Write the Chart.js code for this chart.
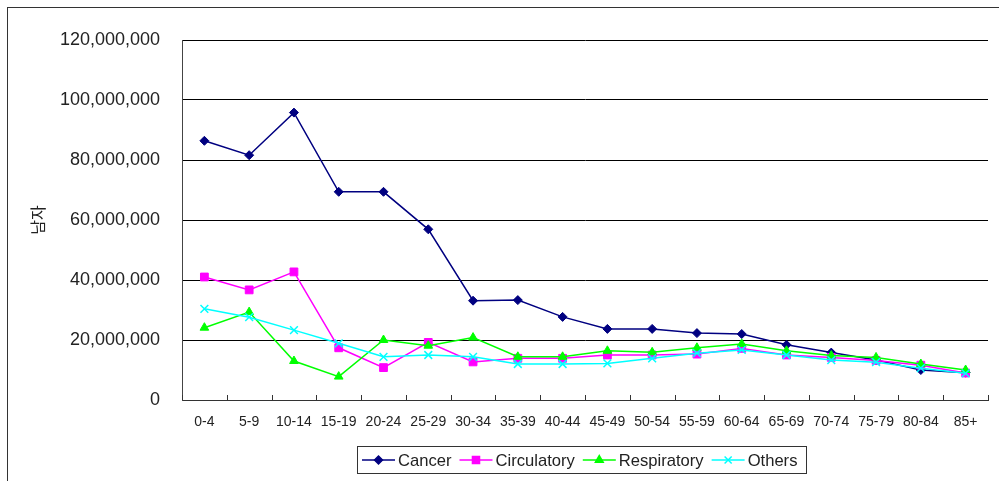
<!DOCTYPE html>
<html>
<head>
<meta charset="utf-8">
<script src="https://cdn.jsdelivr.net/npm/chart.js@4/dist/chart.umd.min.js"></script>
<style>
    html, body { margin: 0; padding: 0; background: #fff; overflow: hidden; }
    #wrap { position: relative; width: 999px; height: 481px; }
    #frame {
        position: absolute; left: 7px; top: 7px; width: 1010px; height: 500px;
        border: 1px solid #333; pointer-events: none;
    }
</style>
</head>
<body>
<div id="wrap">
    <canvas id="chart" width="999" height="481"></canvas>
    <div id="frame"></div>
</div>
<script>
const ageGroups = ['0-4', '5-9', '10-14', '15-19', '20-24', '25-29', '30-34', '35-39', '40-44',
    '45-49', '50-54', '55-59', '60-64', '65-69', '70-74', '75-79', '80-84', '85+'];

const cancer = [86400000, 81600000, 95800000, 69400000, 69400000, 56900000, 33100000, 33300000, 27700000,
    23700000, 23700000, 22300000, 22000000, 18400000, 15800000, 13300000, 10000000, 9100000];
const circulatory = [41000000, 36700000, 42700000, 17400000, 10800000, 19200000, 12700000, 13900000, 13900000,
    15000000, 15000000, 15300000, 17200000, 15000000, 14200000, 13200000, 11600000, 9000000];
const respiratory = [24100000, 29300000, 13000000, 7800000, 20000000, 18100000, 20800000, 14400000, 14400000,
    16400000, 15900000, 17400000, 18700000, 16400000, 14800000, 14200000, 12000000, 10000000];
const others = [30400000, 27600000, 23300000, 18900000, 14400000, 15000000, 14400000, 12000000, 12000000,
    12200000, 13900000, 15600000, 16700000, 15000000, 13300000, 12600000, 10600000, 8900000];

const yTicks = [0, 20000000, 40000000, 60000000, 80000000, 100000000, 120000000];
const yTitle = '남자';

function series(label, data, color, style, radius, order) {
    return {
        label: label,
        data: data,
        borderColor: color,
        backgroundColor: color,
        borderWidth: 1.5,
        pointStyle: style,
        pointRadius: radius,
        pointBorderWidth: style === 'crossRot' ? 1.5 : 1,
        pointBorderColor: color,
        pointBackgroundColor: color,
        tension: 0,
        order: order
    };
}

// small tick marks pointing up from the x axis, between categories
const innerTicks = {
    id: 'innerTicks',
    beforeDatasetsDraw(chart) {
        const xs = chart.scales.x;
        const ctx = chart.ctx;
        const n = ageGroups.length;
        ctx.save();
        ctx.strokeStyle = '#333';
        ctx.lineWidth = 1;
        ctx.beginPath();
        for (let i = 0; i <= n; i++) {
            const x = Math.round(xs.left + i * xs.width / n) + 0.5;
            ctx.moveTo(x, xs.top);
            ctx.lineTo(x, xs.top - 5);
        }
        ctx.stroke();
        ctx.restore();
    }
};

// boxed legend under the plot: line sample with marker, then the name
const boxedLegend = {
    id: 'boxedLegend',
    afterDraw(chart) {
        const ctx = chart.ctx;
        const sets = chart.data.datasets;
        const y = 460;
        let x = 362;
        ctx.save();
        ctx.font = '16.6px "Liberation Sans", Arial, sans-serif';
        ctx.textBaseline = 'middle';
        sets.forEach((ds, i) => {
            ctx.strokeStyle = ds.borderColor;
            ctx.fillStyle = ds.backgroundColor;
            ctx.lineWidth = 1.5;
            ctx.beginPath();
            ctx.moveTo(x, y);
            ctx.lineTo(x + 33, y);
            ctx.stroke();
            Chart.helpers.drawPoint(ctx, {
                pointStyle: ds.pointStyle,
                radius: ds.pointRadius - 0.5,
                borderWidth: ds.pointBorderWidth,
                rotation: 0
            }, x + 16.5, y);
            ctx.fillStyle = '#222';
            ctx.fillText(ds.label, x + 36, y + 1);
            const end = x + 36 + ctx.measureText(ds.label).width;
            x = i < sets.length - 1 ? end + 8 : end;
        });
        ctx.strokeStyle = '#333';
        ctx.lineWidth = 1;
        ctx.strokeRect(357.5, 446.5, Math.round(x + 9 - 357), 27);
        ctx.restore();
    }
};

function renderChart() {
    const ctx = document.getElementById('chart').getContext('2d');
    const chart = new Chart(ctx, {
        type: 'line',
        data: {
            labels: ageGroups,
            datasets: [
                series('Cancer', cancer, '#000080', 'rectRot', 4.5, 4),
                series('Circulatory', circulatory, '#ff00ff', 'rect', 5.5, 3),
                series('Respiratory', respiratory, '#00ff00', 'triangle', 5, 2),
                series('Others', others, '#00ffff', 'crossRot', 5.5, 1)
            ]
        },
        options: {
            responsive: false,
            devicePixelRatio: 1,
            animation: false,
            events: [],
            layout: { padding: { left: 0, right: 11, top: 40, bottom: 40 } },
            plugins: {
                legend: { display: false },
                tooltip: { enabled: false }
            },
            scales: {
                x: {
                    type: 'category',
                    offset: true,
                    grid: { display: false, drawTicks: false },
                    border: { display: true, color: '#333', width: 1 },
                    ticks: {
                        color: '#222',
                        padding: 14,
                        maxRotation: 0,
                        autoSkip: false,
                        font: { family: '"Liberation Sans", Arial, sans-serif', size: 14 }
                    },
                    afterFit(scale) { scale.height = 41; }
                },
                y: {
                    min: 0,
                    max: 120000000,
                    afterBuildTicks(scale) { scale.ticks = yTicks.map(v => ({ value: v })); },
                    grid: { color: '#000', lineWidth: 1, drawTicks: false },
                    border: { display: true, color: '#444', width: 1 },
                    ticks: {
                        color: '#222',
                        padding: 22,
                        font: { family: '"Liberation Sans", Arial, sans-serif', size: 18 },
                        callback: v => v.toLocaleString('en-US')
                    },
                    title: {
                        display: true,
                        text: yTitle,
                        color: '#222',
                        padding: { top: 28, bottom: 0 },
                        font: { family: '"Noto Sans CJK KR", sans-serif', size: 16 }
                    },
                    afterFit(scale) { scale.width = 182; }
                }
            }
        },
        plugins: [innerTicks, boxedLegend]
    });
}

renderChart();
</script>
</body>
</html>
